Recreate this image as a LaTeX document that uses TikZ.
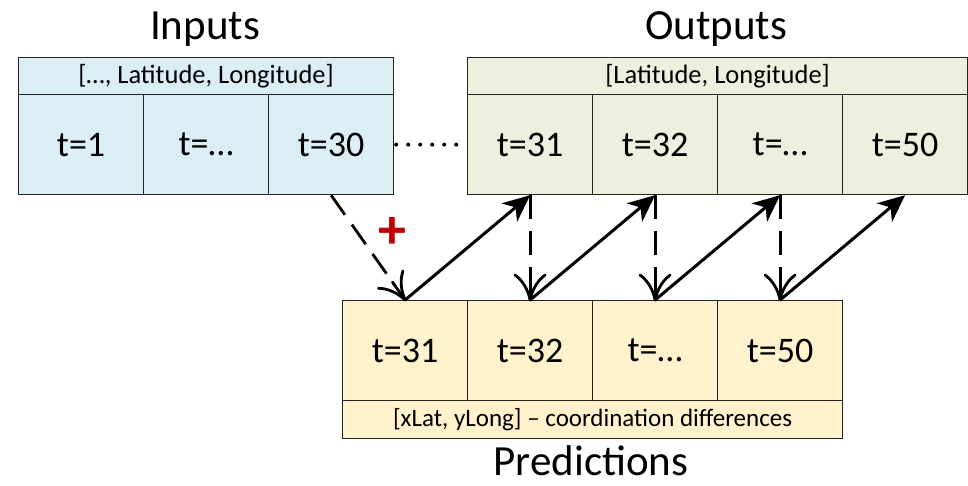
\documentclass[tikz,border=0pt]{standalone}
\usepackage{fontspec}
\setmainfont{Carlito}
\usetikzlibrary{arrows.meta}
\definecolor{inblue}{RGB}{218,238,243}
\definecolor{outgreen}{RGB}{235,241,222}
\definecolor{predyellow}{RGB}{255,242,204}
\definecolor{plusred}{RGB}{192,0,0}
\definecolor{edgegray}{RGB}{35,35,35}

\begin{document}
\begin{tikzpicture}[x=1pt,y=-1pt,
  cell/.style={draw=edgegray, line width=1.2pt, minimum width=125pt, minimum height=100pt,
    inner sep=0pt, font=\fontsize{36}{40}\selectfont, anchor=north west},
  header/.style={draw=edgegray, line width=1.2pt, minimum height=37pt,
    inner sep=0pt, font=\fontsize{26.5}{30}\selectfont, anchor=north west},
  title/.style={font=\fontsize{43}{50}\selectfont, inner sep=0pt},
  flow/.style={-{Stealth[length=27pt,width=24pt,inset=8pt]}, line width=3pt},
  feedline/.style={line width=2.8pt, dash pattern=on 24pt off 12pt, shorten >=18pt},
  feedtip/.style={line width=2.8pt, line cap=round, line join=round},
  dotline/.style={line width=4pt, line cap=round, dash pattern=on 0pt off 12pt},
]
\useasboundingbox (0,0) rectangle (968,486);

% titles
\node[title] (intitle) at (205,29) {Inputs};
\node[title] (outtitle) at (716,29) {Outputs};
\node[title] (predtitle) at (591,461) {Predictions};

% input sequence
\node[header, minimum width=375pt, fill=inblue] (inhead) at (18,57) {[…, Latitude, Longitude]};
\node[cell, fill=inblue] (in1) at (18,94) {t=1};
\node[cell, fill=inblue] (in2) at (143,94) {t=…};
\node[cell, fill=inblue] (in3) at (268,94) {t=30};

% output sequence
\node[header, minimum width=500pt, fill=outgreen] (outhead) at (467,57) {[Latitude, Longitude]};
\node[cell, fill=outgreen] (o1) at (467,94) {t=31};
\node[cell, fill=outgreen] (o2) at (592,94) {t=32};
\node[cell, fill=outgreen] (o3) at (717,94) {t=…};
\node[cell, fill=outgreen] (o4) at (842,94) {t=50};

% predicted sequence
\node[cell, fill=predyellow] (p1) at (342,300) {t=31};
\node[cell, fill=predyellow] (p2) at (467,300) {t=32};
\node[cell, fill=predyellow] (p3) at (592,300) {t=…};
\node[cell, fill=predyellow] (p4) at (717,300) {t=50};
\node[header, minimum width=500pt, minimum height=38pt, fill=predyellow, font=\fontsize{25}{28}\selectfont] (predfoot) at (342,400) {[xLat, yLong] – coordination differences};

% gap between last input and first output
\draw[dotline, shorten >=10pt] ([xshift=2pt]in3.east) -- (o1.west);

% dashed feed-back links: dashed body plus a solid open curved head
\foreach \a/\b in {in3/p1, o1/p2, o2/p3, o3/p4}{
  \draw[feedline] (\a.south) -- (\b.north);
  \pgfmathanglebetweenpoints{\pgfpointanchor{\a}{south}}{\pgfpointanchor{\b}{north}}
  \let\tipang\pgfmathresult
  \begin{scope}[shift={(\b.north)}, rotate=\tipang]
    \draw[feedtip] (-22,0) -- (0,0);
    \draw[feedtip] (-25,-15) .. controls (-19,-7) and (-10,-2) .. (0,0)
                   .. controls (-10,2) and (-19,7) .. (-25,15);
  \end{scope}
}
\node[font=\fontsize{56}{56}\selectfont\bfseries, text=plusred, inner sep=0pt] (plus) at (392,233) {+};

% autoregressive chain
\draw[flow] (p1.north) -- (o1.south);
\draw[flow] (p2.north) -- (o2.south);
\draw[flow] (p3.north) -- (o3.south);
\draw[flow] (p4.north) -- (o4.south);
\end{tikzpicture}
\end{document}
